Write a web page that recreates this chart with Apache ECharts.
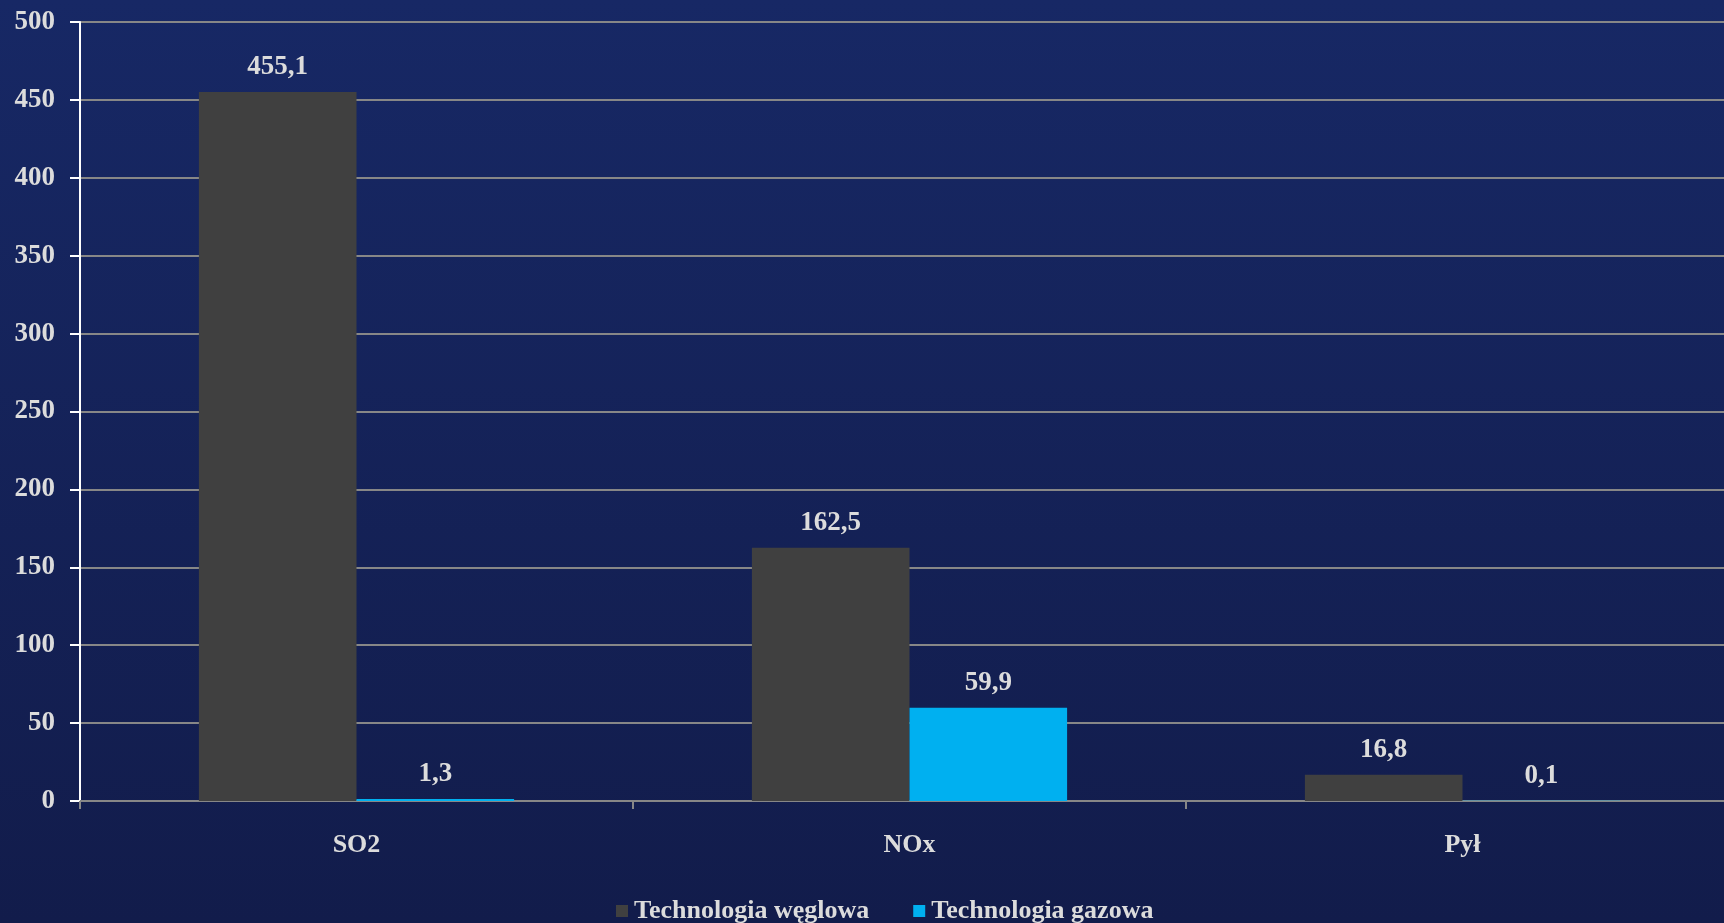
<!DOCTYPE html>
<html>
<head>
<meta charset="utf-8">
<title>Emisje: technologia węglowa i gazowa</title>
<script src="https://cdn.jsdelivr.net/npm/echarts@6/dist/echarts.min.js"></script>
<style>
  html, body { margin: 0; padding: 0; width: 100%; height: 100%; overflow: hidden; background: #141f52; }
  /* canvas is a bit wider than the window: the plot's right end is cut off */
  #chart { width: 1739px; height: 923px; }
</style>
</head>
<body>
<div id="chart"></div>
<script>
// Pollutant categories and emission values for each technology
const categories = ['SO2', 'NOx', 'Pył'];
const coalValues = [455.1, 162.5, 16.8];
const gasValues = [1.3, 59.9, 0.1];
const seriesNames = ['Technologia węglowa', 'Technologia gazowa'];
const yTicks = { min: 0, max: 500, interval: 50 };

const FONT = '"Liberation Serif", "DejaVu Serif", serif';
const TEXT = '#dcdcdc';

// Decimal comma, one digit after it
const fmt = v => v.toFixed(1).replace('.', ',');

const chart = echarts.init(document.getElementById('chart'), null, { renderer: 'canvas' });

const labelStyle = {
  show: true,
  position: 'top',
  distance: 11,
  color: TEXT,
  fontFamily: FONT,
  fontSize: 27,
  fontWeight: 'bold',
  formatter: p => fmt(p.value)
};

chart.setOption({
  backgroundColor: {
    type: 'linear', x: 0, y: 0, x2: 0, y2: 1,
    colorStops: [
      { offset: 0, color: '#172865' },
      { offset: 1, color: '#121c4b' }
    ]
  },
  animation: false,
  grid: { left: 80, right: 0, top: 22, bottom: 122 },
  legend: {
    data: seriesNames,
    left: 611,
    top: 893,
    itemWidth: 12,
    itemHeight: 12,
    itemGap: 44,
    icon: 'rect',
    textStyle: {
      color: TEXT,
      fontFamily: FONT,
      fontSize: 26,
      fontWeight: 'bold',
      padding: [0, 0, 0, 1]
    }
  },
  xAxis: {
    type: 'category',
    data: categories,
    axisLine: { show: true, lineStyle: { color: '#878787', width: 2 } },
    axisTick: { show: true, length: 8, lineStyle: { color: '#878787', width: 2 } },
    axisLabel: {
      color: TEXT,
      fontFamily: FONT,
      fontSize: 26,
      fontWeight: 'bold',
      margin: 31
    }
  },
  yAxis: {
    type: 'value',
    min: yTicks.min,
    max: yTicks.max,
    interval: yTicks.interval,
    axisLine: { show: true, lineStyle: { color: '#ffffff', width: 2 } },
    axisTick: { show: true, length: 10, lineStyle: { color: '#ffffff', width: 2 } },
    splitLine: { show: true, lineStyle: { color: '#878787', width: 2 } },
    axisLabel: {
      color: TEXT,
      fontFamily: FONT,
      fontSize: 27,
      fontWeight: 'bold',
      margin: 25
    }
  },
  series: [
    {
      name: seriesNames[0],
      type: 'bar',
      data: coalValues,
      barGap: '0%',
      barCategoryGap: '43%',
      itemStyle: { color: '#404040' },
      label: labelStyle
    },
    {
      name: seriesNames[1],
      type: 'bar',
      data: gasValues,
      barGap: '0%',
      barCategoryGap: '43%',
      itemStyle: { color: '#00b0f0' },
      label: labelStyle
    }
  ]
});
</script>
</body>
</html>
